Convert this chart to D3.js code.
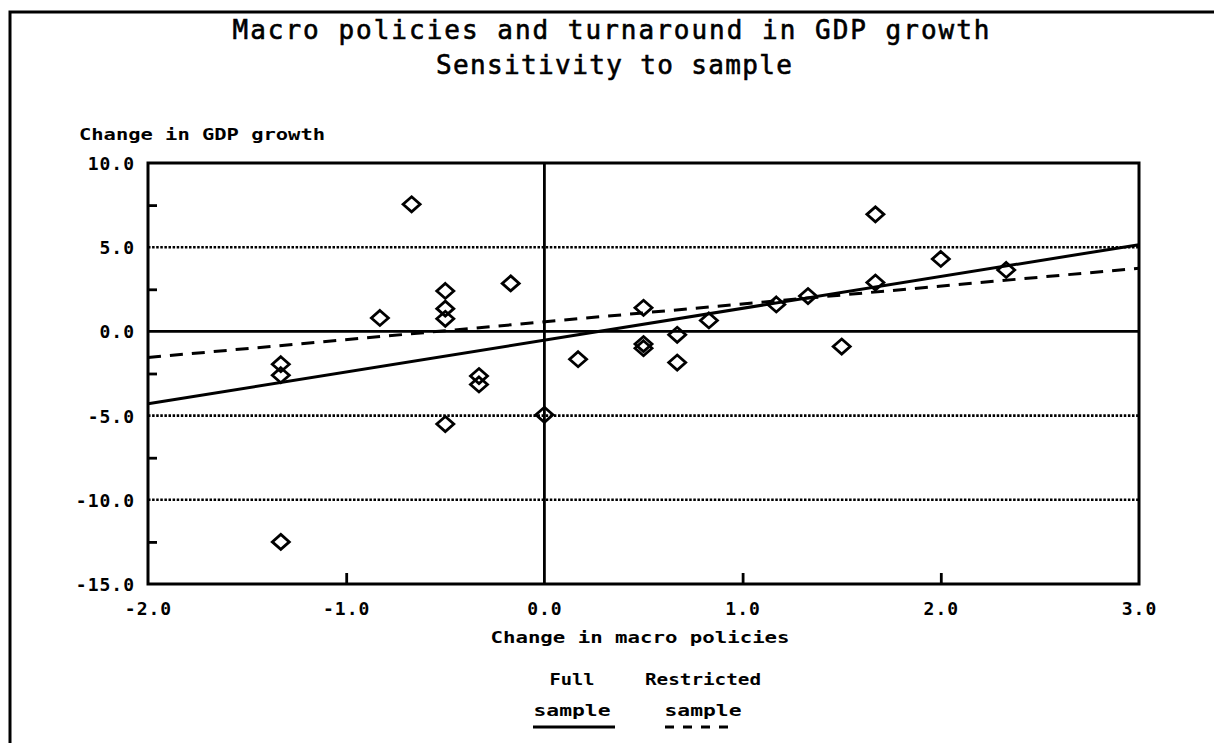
<!DOCTYPE html>
<html><head><meta charset="utf-8">
<script src="https://cdn.jsdelivr.net/npm/d3@7"></script>
<style>body{margin:0;background:#fff}svg{display:block}</style>
</head><body>
<svg id="c" width="1214" height="743"></svg>
<script>
// ---- data ----
const titleLines = ["Macro policies and turnaround in GDP growth", "Sensitivity to sample"];
const yAxisTitle = "Change in GDP growth";
const xAxisTitle = "Change in macro policies";
const xTicks = [-2, -1, 0, 1, 2, 3];
const xMinorTicks = [-1, 1, 2];
const yTicks = [10, 5, 0, -5, -10, -15];
const yMinorTicks = [7.5, 2.5, -2.5, -7.5, -12.5];
const gridY = [5, -5, -10];
const pointsX = [-1.33,-1.33,-1.33,-0.83,-0.67,-0.5,-0.5,-0.5,-0.5,-0.33,-0.33,-0.17,0,0.17,0.5,0.5,0.5,0.67,0.67,0.83,1.17,1.33,1.5,1.67,1.67,2.0,2.33];
const pointsY = [-1.95,-2.6,-12.5,0.8,7.55,2.4,1.35,0.75,-5.5,-2.65,-3.15,2.85,-4.95,-1.65,1.4,-0.75,-1.0,-0.2,-1.85,0.65,1.6,2.1,-0.9,6.95,2.9,4.3,3.65];
const fullFitX = [-2, 3];
const fullFitY = [-4.3, 5.15];
const restrictedFitX = [-2, 3];
const restrictedFitY = [-1.55, 3.75];
const legendTop = ["Full", "Restricted"];
const legendBottom = ["sample", "sample"];

// ---- layout ----
const svg = d3.select("#c");
const L = 148, R = 1139, T = 163, B = 584;
const x = d3.scaleLinear().domain([-2, 3]).range([L, R]);
const y = d3.scaleLinear().domain([-15, 10]).range([B, T]);
const MONO = "'DejaVu Sans Mono', 'Liberation Mono', monospace";

// outer page frame (left + top edges)
svg.append("path").attr("d", "M10,743 L10,12 L1214,12")
  .attr("fill", "none").attr("stroke", "#000").attr("stroke-width", 3);

// titles
svg.append("text").attr("x", 611).attr("y", 30).attr("text-anchor", "middle")
  .attr("dominant-baseline", "central").attr("font-family", MONO).attr("font-size", 26)
  .attr("stroke", "#000").attr("stroke-width", 0.6)
  .attr("textLength", 757).attr("lengthAdjust", "spacing").text(titleLines[0]);
svg.append("text").attr("x", 614).attr("y", 65).attr("text-anchor", "middle")
  .attr("dominant-baseline", "central").attr("font-family", MONO).attr("font-size", 26)
  .attr("stroke", "#000").attr("stroke-width", 0.6)
  .attr("textLength", 356).attr("lengthAdjust", "spacing").text(titleLines[1]);

// y axis title
svg.append("text").attr("x", 79).attr("y", 134).attr("dominant-baseline", "central")
  .attr("font-family", MONO).attr("font-weight", "bold").attr("font-size", 16)
  .attr("textLength", 246).attr("lengthAdjust", "spacingAndGlyphs").text(yAxisTitle);

// gridlines (dotted)
svg.append("g").selectAll("line").data(gridY).join("line")
  .attr("x1", L).attr("x2", R).attr("y1", d => y(d)).attr("y2", d => y(d))
  .attr("stroke", "#000").attr("stroke-width", 2.6).attr("stroke-dasharray", "2.5,1.6");

// zero lines
svg.append("line").attr("x1", L).attr("x2", R).attr("y1", y(0)).attr("y2", y(0))
  .attr("stroke", "#000").attr("stroke-width", 2.6);
svg.append("line").attr("x1", x(0)).attr("x2", x(0)).attr("y1", T).attr("y2", B)
  .attr("stroke", "#000").attr("stroke-width", 2.8);

// minor ticks (inward)
const yMinor = svg.append("g").attr("transform", `translate(${L},0)`)
  .call(d3.axisLeft(y).tickValues(yMinorTicks).tickSize(-9).tickFormat(""));
yMinor.select(".domain").remove();
yMinor.selectAll("line").attr("stroke-width", 2.8);
const xMinor = svg.append("g").attr("transform", `translate(0,${B})`)
  .call(d3.axisBottom(x).tickValues(xMinorTicks).tickSize(-11).tickFormat(""));
xMinor.select(".domain").remove();
xMinor.selectAll("line").attr("stroke-width", 2.8);

// tick labels
const yAx = svg.append("g").attr("transform", `translate(${L},0)`)
  .call(d3.axisLeft(y).tickValues(yTicks).tickSize(0).tickPadding(13).tickFormat(d => d.toFixed(1)));
yAx.select(".domain").remove();
yAx.selectAll("text").attr("dy", null).attr("dominant-baseline", "central")
  .attr("font-family", MONO).attr("font-weight", "bold").attr("font-size", 18)
  .attr("letter-spacing", 1).attr("fill", "#000");
const xAx = svg.append("g").attr("transform", `translate(0,${B})`)
  .call(d3.axisBottom(x).tickValues(xTicks).tickSize(0).tickFormat(d => d.toFixed(1)));
xAx.select(".domain").remove();
xAx.selectAll("text").attr("dy", null).attr("y", 24).attr("dominant-baseline", "central")
  .attr("font-family", MONO).attr("font-weight", "bold").attr("font-size", 18)
  .attr("letter-spacing", 1).attr("fill", "#000");

// plot frame
svg.append("rect").attr("x", L).attr("y", T).attr("width", R - L).attr("height", B - T)
  .attr("fill", "none").attr("stroke", "#000").attr("stroke-width", 3);

// fit lines
const lineGen = d3.line().x(d => x(d[0])).y(d => y(d[1]));
svg.append("path").datum(d3.zip(fullFitX, fullFitY)).attr("d", lineGen)
  .attr("fill", "none").attr("stroke", "#000").attr("stroke-width", 3);
svg.append("path").datum(d3.zip(restrictedFitX, restrictedFitY)).attr("d", lineGen)
  .attr("fill", "none").attr("stroke", "#000").attr("stroke-width", 3)
  .attr("stroke-dasharray", "13,9");

// diamonds
const hw = 8.5, hh = 7.5;
svg.append("g").selectAll("path").data(d3.zip(pointsX, pointsY)).join("path")
  .attr("d", d => {
    const cx = x(d[0]), cy = y(d[1]);
    return `M${cx},${cy - hh}L${cx + hw},${cy}L${cx},${cy + hh}L${cx - hw},${cy}Z`;
  })
  .attr("fill", "none").attr("stroke", "#000").attr("stroke-width", 2.8);

// x axis title
svg.append("text").attr("x", 640).attr("y", 637).attr("text-anchor", "middle")
  .attr("dominant-baseline", "central").attr("font-family", MONO).attr("font-weight", "bold")
  .attr("font-size", 16).attr("textLength", 299).attr("lengthAdjust", "spacingAndGlyphs").text(xAxisTitle);

// legend
const legCx = [572, 703];
const topW = [45, 116];
svg.append("g").selectAll("text").data(legendTop).join("text")
  .attr("x", (d, i) => legCx[i]).attr("y", 679).attr("text-anchor", "middle")
  .attr("dominant-baseline", "central").attr("font-family", MONO).attr("font-weight", "bold")
  .attr("font-size", 16).attr("textLength", (d, i) => topW[i]).attr("lengthAdjust", "spacingAndGlyphs")
  .text(d => d);
svg.append("g").selectAll("text").data(legendBottom).join("text")
  .attr("x", (d, i) => legCx[i]).attr("y", 710).attr("text-anchor", "middle")
  .attr("dominant-baseline", "central").attr("font-family", MONO).attr("font-weight", "bold")
  .attr("font-size", 16).attr("textLength", 77).attr("lengthAdjust", "spacingAndGlyphs")
  .text(d => d);
svg.append("line").attr("x1", 533).attr("x2", 615).attr("y1", 727).attr("y2", 727)
  .attr("stroke", "#000").attr("stroke-width", 2.8);
svg.append("line").attr("x1", 665).attr("x2", 737).attr("y1", 727).attr("y2", 727)
  .attr("stroke", "#000").attr("stroke-width", 2.8).attr("stroke-dasharray", "9,9");
</script>
</body></html>
